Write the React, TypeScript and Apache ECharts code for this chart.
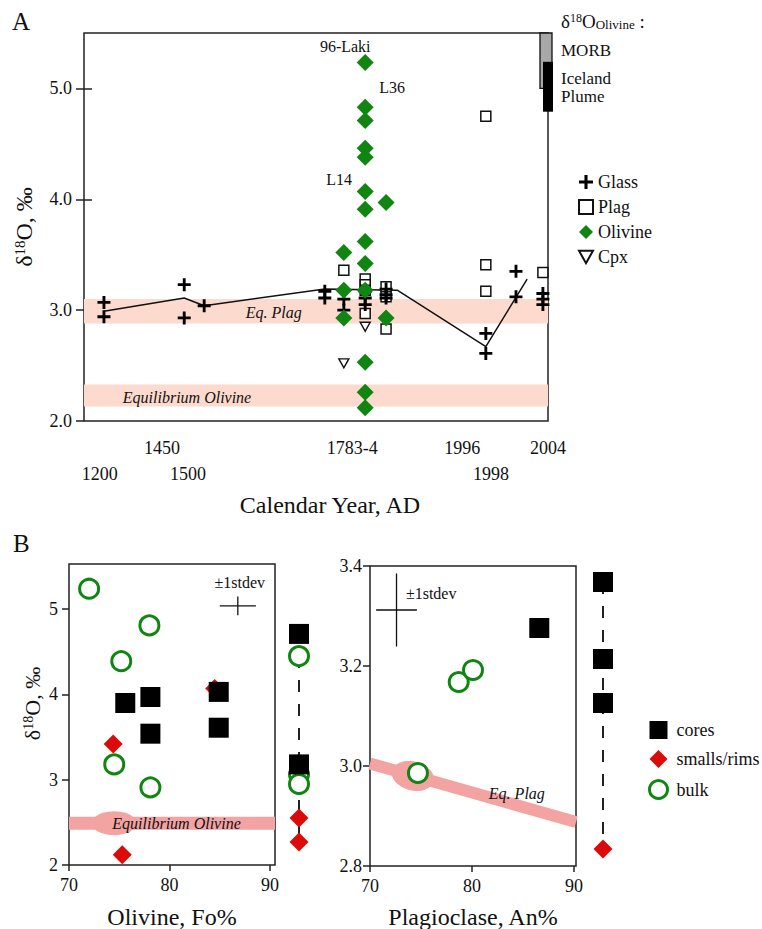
import React, { useEffect, useRef } from 'react';
import * as echarts from 'echarts';

const FONT = 'Liberation Serif, Times New Roman, serif';
const INK = '#111';
const GREEN = '#118511';
const RED = '#dd0a0a';
const BAND_A = '#fcdace';
const BAND_B = '#f4a3a3';
const CROSS = 'path://M0,3.9H3.9V0H6.1V3.9H10V6.1H6.1V10H3.9V6.1H0Z';
const TRI_DOWN = 'path://M0,0L10,0L5,9Z';

// ---------- Panel A: plotting position on a broken calendar axis vs δ18O ----------
const xTicksRow1 = [
  { pos: 16.8, label: '1450' },
  { pos: 57.8, label: '1783-4' },
  { pos: 81.5, label: '1996' },
  { pos: 100, label: '2004' },
];
const xTicksRow2 = [
  { pos: 3.4, label: '1200' },
  { pos: 22.4, label: '1500' },
  { pos: 87.7, label: '1998' },
];
const yTicksA = [2, 3, 4, 5];
const yTicksARight = [3, 4, 5];

const glassA = [
  [4.3, 3.07], [4.3, 2.94], [21.6, 3.23], [21.6, 2.93], [25.9, 3.04],
  [51.9, 3.17], [51.9, 3.11], [56.0, 3.1], [56.0, 3.0],
  [60.6, 3.17], [60.6, 3.11], [60.6, 3.05], [65.1, 3.19], [65.1, 3.14], [65.1, 3.11],
  [86.6, 2.79], [86.6, 2.61], [93.1, 3.35], [93.1, 3.12],
  [98.9, 3.15], [98.9, 3.1], [98.9, 3.05],
];
const plagA = [
  [56.0, 3.36], [60.6, 3.28], [60.6, 3.23], [60.6, 3.18], [60.6, 2.97],
  [65.1, 3.21], [65.1, 3.12], [65.1, 2.83],
  [86.6, 4.75], [86.6, 3.41], [86.6, 3.17], [98.9, 3.34],
];
const olivineA = [
  [60.6, 5.235], [60.6, 4.83], [60.6, 4.71], [60.6, 4.46], [60.6, 4.38], [60.6, 4.07],
  [60.6, 3.91], [60.6, 3.62], [60.6, 3.42], [60.6, 3.18], [60.6, 2.53], [60.6, 2.26], [60.6, 2.12],
  [56.0, 3.52], [56.0, 3.18], [56.0, 2.93], [65.1, 3.97], [65.1, 2.93],
];
const cpxA = [[56.0, 2.52], [60.6, 2.85]];
const glassTrendA = [
  [4.3, 2.99], [21.6, 3.11], [25.9, 3.04], [51.9, 3.19], [67.5, 3.18], [86.6, 2.67], [95.5, 3.28],
];
const eqPlagA = [2.88, 3.1];
const eqOlivineA = [2.13, 2.33];
const morbRange = [5.0, 5.5];
const icelandPlumeRange = [4.79, 5.24];
const labelsA = [
  { text: '96-Laki', x: 56.3, y: 5.38 },
  { text: 'L36', x: 66.4, y: 5.01 },
  { text: 'L14', x: 55.0, y: 4.18 },
  { text: 'Eq. Plag', x: 40.9, y: 2.98, italic: true },
  { text: 'Equilibrium Olivine', x: 22.2, y: 2.21, italic: true },
];

// ---------- Panel B left: Olivine Fo% vs δ18O ----------
const xTicksB = [70, 80, 90];
const yTicksBL = [2, 3, 4, 5];
const olvBulk = [[72.0, 5.24], [78.0, 4.81], [75.2, 4.39], [74.5, 3.18], [78.1, 2.91]];
const olvCores = [[75.6, 3.9], [78.1, 3.97], [78.1, 3.54], [84.9, 4.03], [84.9, 3.61]];
const olvSmalls = [[74.4, 3.42], [75.3, 2.12], [84.5, 4.07]];
const olvColCores = [4.71, 3.18];
const olvColBulk = [4.45, 3.06, 2.95];
const olvColSmalls = [2.55, 2.27];
const eqOlivineB = [[70, 2.49], [90.5, 2.49]];
const olvBulge = [74.5, 2.49];
const olvStdev = [86.8, 5.04, 1.8, 0.11];
const labelsBL = [
  { text: '±1stdev', x: 87.0, y: 5.31 },
  { text: 'Equilibrium Olivine', x: 80.7, y: 2.49, italic: true },
];

// ---------- Panel B right: Plagioclase An% vs δ18O ----------
const yTicksBR = [2.8, 3.0, 3.2, 3.4];
const plgBulk = [[78.7, 3.168], [80.1, 3.192], [74.7, 2.986]];
const plgCores = [[86.6, 3.276]];
const plgColCores = [3.368, 3.214, 3.126];
const plgColSmalls = [2.834];
const eqPlagB = [[70, 3.005], [90.2, 2.888]];
const plgBulge = [74.2, 2.98];
const plgStdev = [72.6, 3.312, 2.0, 0.073];
const labelsBR = [
  { text: '±1stdev', x: 76.0, y: 3.346 },
  { text: 'Eq. Plag', x: 84.4, y: 2.946, italic: true },
];

const txt = (size: number, extra: any = {}) => ({
  fontFamily: FONT, fontSize: size, fontStyle: 'normal', fontWeight: 'normal', color: INK, ...extra,
});

const lookup = (arr: { pos: number; label: string }[]) => (v: number) => {
  const f = arr.find((t) => Math.abs(t.pos - v) < 1e-6);
  return f ? f.label : '';
};

const yName = (size: number, gap: number) => ({
  name: '{d|δ}{s|18}{d|O, ‰}',
  nameLocation: 'middle',
  nameRotate: 90,
  nameGap: gap,
  nameTextStyle: {
    ...txt(size),
    rich: {
      d: txt(size),
      s: { ...txt(Math.round(size * 0.62)), verticalAlign: 'top' },
    },
  },
});

const tickStyle = { color: '#222', width: 1.5 };

const hiddenAxis = (gridIndex: number, min: number, max: number) => ({
  gridIndex, type: 'value', min, max, show: false,
});

const bandRender = (fill: string) => (params: any, api: any) => {
  const cs = params.coordSys;
  const top = api.coord([0, api.value(1)])[1];
  const bot = api.coord([0, api.value(0)])[1];
  return { type: 'rect', shape: { x: cs.x, y: top, width: cs.width, height: bot - top }, style: { fill } };
};

const columnRect = (off: number, w: number, style: any) => (params: any, api: any) => {
  const cs = params.coordSys;
  const top = api.coord([0, api.value(1)])[1];
  const bot = api.coord([0, api.value(0)])[1];
  return { type: 'rect', shape: { x: cs.x + off, y: top, width: w, height: bot - top }, style };
};

const crossRender = (params: any, api: any) => {
  const x = api.value(0), y = api.value(1), dx = api.value(2), dy = api.value(3);
  const l = api.coord([x - dx, y]), r = api.coord([x + dx, y]);
  const t = api.coord([x, y + dy]), b = api.coord([x, y - dy]);
  const st = { stroke: INK, lineWidth: 1.3 };
  return {
    type: 'group',
    children: [
      { type: 'line', shape: { x1: l[0], y1: l[1], x2: r[0], y2: r[1] }, style: st },
      { type: 'line', shape: { x1: t[0], y1: t[1], x2: b[0], y2: b[1] }, style: st },
    ],
  };
};

const labelSeries = (xi: number, yi: number, labels: any[]) => ({
  type: 'scatter', xAxisIndex: xi, yAxisIndex: yi, symbol: 'circle', symbolSize: 1, silent: true, z: 6,
  itemStyle: { color: 'rgba(0,0,0,0)', opacity: 1 },
  label: { show: true, position: 'inside', ...txt(16), opacity: 1 },
  data: labels.map((l) => ({
    value: [l.x, l.y],
    label: { formatter: l.text, fontStyle: l.italic ? 'italic' : 'normal' },
  })),
});

const coresStyle = { symbol: 'rect', symbolSize: 20, itemStyle: { color: '#000', opacity: 1 } };
const smallsStyle = { symbol: 'diamond', symbolSize: 19, itemStyle: { color: RED, opacity: 1 } };
const bulkStyle = { symbol: 'circle', symbolSize: 19, itemStyle: { color: '#fff', borderColor: GREEN, borderWidth: 3, opacity: 1 } };
const col = (vals: number[]) => vals.map((v) => [0.5, v]);

function buildOption(): any {
  const box = { show: true, borderColor: '#222', borderWidth: 1.5, backgroundColor: 'transparent' };
  const g = { outerBoundsMode: 'none', containLabel: false };
  return {
    animation: false,
    backgroundColor: '#fff',
    textStyle: { fontFamily: FONT },
    grid: [
      { left: 84, top: 33, width: 464, height: 388, ...g, ...box },
      { left: 69, top: 564, width: 206, height: 301, ...g, ...box },
      { left: 289, top: 564, width: 20, height: 301, ...g },
      { left: 370, top: 566, width: 206, height: 300, ...g, ...box },
      { left: 593, top: 566, width: 20, height: 300, ...g },
      { left: 540, top: 33, width: 13, height: 388, ...g },
    ],
    xAxis: [
      {
        gridIndex: 0, type: 'value', min: 0, max: 100, position: 'bottom',
        axisLine: { show: false }, axisTick: { show: false }, splitLine: { show: false },
        axisLabel: { customValues: xTicksRow1.map((t) => t.pos), formatter: lookup(xTicksRow1), margin: 18, ...txt(18) },
      },
      {
        gridIndex: 0, type: 'value', min: 0, max: 100, position: 'bottom', offset: 0,
        axisLine: { show: false }, axisTick: { show: false }, splitLine: { show: false },
        axisLabel: { customValues: xTicksRow2.map((t) => t.pos), formatter: lookup(xTicksRow2), margin: 44, ...txt(18) },
        name: 'Calendar Year, AD', nameLocation: 'middle', nameGap: 72,
        nameTextStyle: { ...txt(24), padding: [0, 0, 0, 28] },
      },
      {
        gridIndex: 1, type: 'value', min: 70, max: 90.5, position: 'bottom',
        axisLine: { show: false }, splitLine: { show: false },
        axisTick: { customValues: xTicksB, length: 6, lineStyle: tickStyle },
        axisLabel: { customValues: xTicksB, margin: 11, ...txt(18) },
        name: 'Olivine, Fo%', nameLocation: 'middle', nameGap: 40, nameTextStyle: txt(24),
      },
      hiddenAxis(2, 0, 1),
      {
        gridIndex: 3, type: 'value', min: 70, max: 90.2, position: 'bottom',
        axisLine: { show: false }, splitLine: { show: false },
        axisTick: { customValues: xTicksB, length: 6, lineStyle: tickStyle },
        axisLabel: { customValues: xTicksB, margin: 11, ...txt(18) },
        name: 'Plagioclase, An%', nameLocation: 'middle', nameGap: 39, nameTextStyle: txt(24),
      },
      hiddenAxis(4, 0, 1),
      hiddenAxis(5, 0, 1),
    ],
    yAxis: [
      {
        gridIndex: 0, type: 'value', min: 2, max: 5.5, position: 'left',
        axisLine: { show: false }, splitLine: { show: false },
        axisTick: { customValues: yTicksA, length: 8, lineStyle: tickStyle },
        axisLabel: { customValues: yTicksA, formatter: (v: number) => v.toFixed(1), margin: 12, ...txt(18) },
        ...yName(24, 48),
      },
      {
        gridIndex: 0, type: 'value', min: 2, max: 5.5, position: 'right',
        axisLine: { show: false }, splitLine: { show: false },
        axisTick: { customValues: yTicksARight, length: 8, lineStyle: tickStyle },
        axisLabel: { show: false },
      },
      {
        gridIndex: 1, type: 'value', min: 2, max: 5.53, position: 'left',
        axisLine: { show: false }, splitLine: { show: false },
        axisTick: { customValues: yTicksBL, length: 7, lineStyle: tickStyle },
        axisLabel: { customValues: yTicksBL, margin: 11, ...txt(18) },
        ...yName(22, 26),
        nameTextStyle: { ...yName(22, 26).nameTextStyle, padding: [0, 0, 0, 22] },
      },
      hiddenAxis(2, 2, 5.53),
      {
        gridIndex: 3, type: 'value', min: 2.8, max: 3.4, position: 'left',
        axisLine: { show: false }, splitLine: { show: false },
        axisTick: { customValues: yTicksBR, length: 7, lineStyle: tickStyle },
        axisLabel: { customValues: yTicksBR, formatter: (v: number) => v.toFixed(1), margin: 8, ...txt(18) },
      },
      hiddenAxis(4, 2.8, 3.4),
      hiddenAxis(5, 2, 5.5),
    ],
    legend: [
      {
        data: ['Glass', 'Plag', 'Olivine', 'Cpx'], orient: 'vertical', left: 578, top: 173,
        itemWidth: 14, itemHeight: 14, itemGap: 7, padding: 0, selectedMode: false,
        textStyle: txt(18),
      },
      {
        data: ['cores', 'smalls/rims', { name: 'bulk', itemStyle: { borderWidth: 3 } }],
        orient: 'vertical', left: 648, top: 721,
        itemWidth: 18, itemHeight: 18, itemGap: 11, padding: 0, selectedMode: false,
        textStyle: { ...txt(18), padding: [0, 0, 0, 4] },
      },
    ],
    series: [
      // ---- Panel A
      { type: 'custom', xAxisIndex: 0, yAxisIndex: 0, silent: true, z: 1, data: [eqPlagA, eqOlivineA], renderItem: bandRender(BAND_A) },
      { type: 'line', name: 'trend', xAxisIndex: 0, yAxisIndex: 0, data: glassTrendA, symbol: 'none', z: 2, lineStyle: { color: INK, width: 1.5 } },
      { type: 'scatter', name: 'Plag', xAxisIndex: 0, yAxisIndex: 0, data: plagA, symbol: 'rect', symbolSize: 10, z: 3, itemStyle: { color: '#fff', borderColor: INK, borderWidth: 1.5, opacity: 1 } },
      { type: 'scatter', name: 'Glass', xAxisIndex: 0, yAxisIndex: 0, data: glassA, symbol: CROSS, symbolSize: 13, z: 4, itemStyle: { color: '#000', opacity: 1 } },
      { type: 'scatter', name: 'Olivine', xAxisIndex: 0, yAxisIndex: 0, data: olivineA, symbol: 'diamond', symbolSize: 17, z: 4, itemStyle: { color: GREEN, opacity: 1 } },
      { type: 'scatter', name: 'Cpx', xAxisIndex: 0, yAxisIndex: 0, data: cpxA, symbol: TRI_DOWN, symbolSize: [10, 9], z: 4, itemStyle: { color: '#fff', borderColor: INK, borderWidth: 1.4, opacity: 1 } },
      labelSeries(0, 0, labelsA),
      { type: 'custom', xAxisIndex: 6, yAxisIndex: 6, silent: true, z: 5, data: [morbRange], renderItem: columnRect(0, 12, { fill: '#a8a8a8', stroke: INK, lineWidth: 1.3 }) },
      { type: 'custom', xAxisIndex: 6, yAxisIndex: 6, silent: true, z: 6, data: [icelandPlumeRange], renderItem: columnRect(3, 10, { fill: '#000' }) },

      // ---- Panel B left
      { type: 'line', xAxisIndex: 2, yAxisIndex: 2, data: eqOlivineB, symbol: 'none', z: 1, silent: true, lineStyle: { color: BAND_B, width: 13, cap: 'butt' } },
      { type: 'scatter', xAxisIndex: 2, yAxisIndex: 2, data: [olvBulge], symbol: 'circle', symbolSize: [45, 24], z: 1, silent: true, itemStyle: { color: BAND_B, opacity: 1 } },
      { type: 'custom', xAxisIndex: 2, yAxisIndex: 2, silent: true, z: 3, data: [olvStdev], renderItem: crossRender },
      { type: 'scatter', name: 'bulk', xAxisIndex: 2, yAxisIndex: 2, data: olvBulk, z: 3, ...bulkStyle },
      { type: 'scatter', name: 'smalls/rims', xAxisIndex: 2, yAxisIndex: 2, data: olvSmalls, z: 4, ...smallsStyle },
      { type: 'scatter', name: 'cores', xAxisIndex: 2, yAxisIndex: 2, data: olvCores, z: 5, ...coresStyle },
      labelSeries(2, 2, labelsBL),
      // column
      { type: 'line', xAxisIndex: 3, yAxisIndex: 3, data: col([olvColBulk[0], olvColSmalls[1]]), symbol: 'none', z: 2, silent: true, lineStyle: { color: '#222', width: 2, type: [12, 12] } },
      { type: 'scatter', name: 'bulk', xAxisIndex: 3, yAxisIndex: 3, data: col(olvColBulk), z: 3, ...bulkStyle },
      { type: 'scatter', name: 'smalls/rims', xAxisIndex: 3, yAxisIndex: 3, data: col(olvColSmalls), z: 4, ...smallsStyle },
      { type: 'scatter', name: 'cores', xAxisIndex: 3, yAxisIndex: 3, data: col(olvColCores), z: 5, ...coresStyle },

      // ---- Panel B right
      { type: 'line', xAxisIndex: 4, yAxisIndex: 4, data: eqPlagB, symbol: 'none', z: 1, silent: true, lineStyle: { color: BAND_B, width: 12, cap: 'butt' } },
      { type: 'scatter', xAxisIndex: 4, yAxisIndex: 4, data: [plgBulge], symbol: 'circle', symbolSize: [43, 29], symbolRotate: -15, z: 1, silent: true, itemStyle: { color: BAND_B, opacity: 1 } },
      { type: 'custom', xAxisIndex: 4, yAxisIndex: 4, silent: true, z: 3, data: [plgStdev], renderItem: crossRender },
      { type: 'scatter', name: 'bulk', xAxisIndex: 4, yAxisIndex: 4, data: plgBulk, z: 3, ...bulkStyle },
      { type: 'scatter', name: 'cores', xAxisIndex: 4, yAxisIndex: 4, data: plgCores, z: 5, ...coresStyle },
      labelSeries(4, 4, labelsBR),
      // column
      { type: 'line', xAxisIndex: 5, yAxisIndex: 5, data: col([plgColCores[0], plgColSmalls[0]]), symbol: 'none', z: 2, silent: true, lineStyle: { color: '#222', width: 2, type: [12, 12] } },
      { type: 'scatter', name: 'smalls/rims', xAxisIndex: 5, yAxisIndex: 5, data: col(plgColSmalls), z: 4, ...smallsStyle },
      { type: 'scatter', name: 'cores', xAxisIndex: 5, yAxisIndex: 5, data: col(plgColCores), z: 5, ...coresStyle },
    ],
    graphic: [
      { type: 'text', left: 12, top: 9, style: { text: 'A', font: `25px ${FONT}`, fill: INK } },
      { type: 'text', left: 13, top: 531, style: { text: 'B', font: `25px ${FONT}`, fill: INK } },
      {
        type: 'text', left: 561, top: 12,
        style: {
          text: '{d|δ}{s|18}{d|O}{b|Olivine}{d| :}',
          fill: INK,
          rich: {
            d: { fontFamily: FONT, fontSize: 19, fill: INK },
            s: { fontFamily: FONT, fontSize: 12, fill: INK, verticalAlign: 'top' },
            b: { fontFamily: FONT, fontSize: 13, fill: INK, verticalAlign: 'bottom' },
          },
        },
      },
      { type: 'text', left: 561, top: 42, style: { text: 'MORB', font: `17px ${FONT}`, fill: INK } },
      { type: 'text', left: 561, top: 70, style: { text: 'Iceland', font: `17px ${FONT}`, fill: INK } },
      { type: 'text', left: 561, top: 88, style: { text: 'Plume', font: `17px ${FONT}`, fill: INK } },
    ],
  };
}

export default function App() {
  const ref = useRef<HTMLDivElement>(null);
  useEffect(() => {
    const chart = echarts.init(ref.current!, null, { renderer: 'svg' });
    chart.setOption(buildOption());
    return () => chart.dispose();
  }, []);
  return (
    <div
      ref={ref}
      style={{ position: 'absolute', left: 0, top: 0, width: 762, height: 929, background: '#fff' }}
    />
  );
}
